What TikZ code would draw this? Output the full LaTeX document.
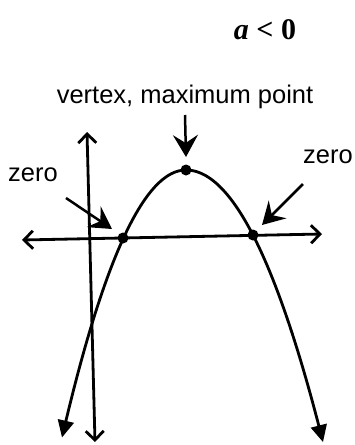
\documentclass[tikz,border=0pt]{standalone}
\usepackage{fontspec}
\setmainfont{Liberation Sans}
\newfontfamily\condfont{Liberation Serif}
\usetikzlibrary{arrows.meta, positioning}

\tikzset{
  axis/.style={line width=2.8pt, {Straight Barb[length=9pt, width=18pt, line width=2.8pt]}-{Straight Barb[length=9pt, width=18pt, line width=2.8pt]}},
  curve/.style={line width=2.8pt, {Triangle[length=17pt, width=16pt]}-{Triangle[length=17pt, width=16pt]}},
  pointer/.style={line width=2.5pt, -{Stealth[length=22pt, width=25pt, inset=8pt]}},
  lbl/.style={font=\fontsize{25.5}{30}\selectfont, inner sep=0pt},
  dot/.style={circle, fill=black, inner sep=0pt, minimum size=11pt}
}

\begin{document}
\begin{tikzpicture}[x=1pt, y=-1pt]
  \useasboundingbox (0,0) rectangle (355,445);

  % Title
  \node[lbl, font=\condfont\fontsize{30}{34}\selectfont\bfseries] (cond) at (265,30) {\textit{a} < 0};

  % Axes
  \coordinate (xl) at (22,240);
  \coordinate (xr) at (322,234);
  \coordinate (yt) at (87,132);
  \coordinate (yb) at (95,442);
  \draw[axis] (xl) -- (xr);
  \draw[axis] (yt) -- (yb);

  % Parabola (opens downward)
  \draw[curve] plot[domain=-124:0, samples=50] ({186+\x},{170+0.0174*\x*\x})
    -- plot[domain=0:137, samples=50] ({186+\x},{170+0.0145*\x*\x});

  % Points
  \node[dot] (vtx) at (186,170) {};
  \node[dot] (zl) at (123,238) {};
  \node[dot] (zr) at (253,235) {};

  % Labels
  \node[lbl] (vlbl) at (185,97) {vertex, maximum point};
  \node[lbl] (zllbl) at (33,175) {zero};
  \node[lbl] (zrlbl) at (328,157) {zero};

  % Pointers
  \coordinate (vtail) at (185,115);
  \coordinate (vtip) at (186,157);
  \coordinate (zltail) at (66,198);
  \coordinate (zltip) at (112,229);
  \coordinate (zrtail) at (303,184);
  \coordinate (zrtip) at (262,225);
  \draw[pointer] (vtail) -- (vtip);
  \draw[pointer] (zltail) -- (zltip);
  \draw[pointer] (zrtail) -- (zrtip);
\end{tikzpicture}
\end{document}
